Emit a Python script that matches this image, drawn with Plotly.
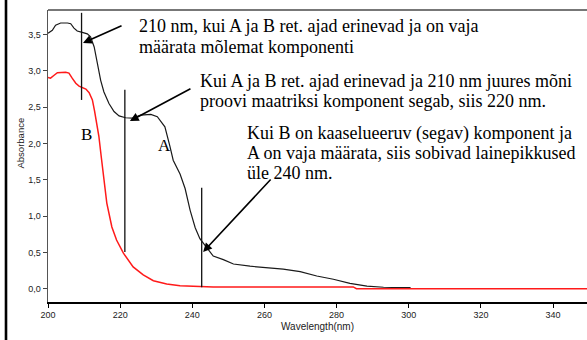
import plotly.graph_objects as go

# ---- data ----
wavelength_A = [200.0, 201.2, 202.1, 203.5, 205.4, 206.3, 207.2, 208.1, 209.5, 210.9,
                211.8, 212.8, 213.7, 214.6, 215.5, 216.9, 218.3, 219.7, 221.5, 223.4,
                225.7, 228.5, 230.3, 231.7, 232.4, 233.8, 234.7, 236.6, 238.0, 239.4,
                240.8, 242.1, 244.0, 245.8, 248.6, 251.4, 256.0, 260.6, 265.2, 269.9,
                274.5, 279.1, 283.7, 288.4, 293.0, 297.6, 300.5]
absorbance_A = [3.52, 3.56, 3.63, 3.66, 3.66, 3.65, 3.59, 3.55, 3.53, 3.51,
                3.47, 3.33, 3.10, 2.87, 2.71, 2.55, 2.44, 2.38, 2.355, 2.35,
                2.39, 2.40, 2.37, 2.28, 2.23, 1.96, 1.77, 1.58, 1.38, 1.08,
                0.84, 0.69, 0.56, 0.45, 0.40, 0.34, 0.31, 0.29, 0.27, 0.235,
                0.175, 0.13, 0.074, 0.037, 0.02, 0.015, 0.015]

wavelength_B = [200.0, 200.7, 201.7, 202.6, 204.9, 205.8, 206.7, 207.7, 208.6, 209.5,
                210.5, 211.4, 212.3, 212.9, 213.4, 214.1, 214.8, 215.4, 216.3, 217.7,
                219.0, 220.9, 223.6, 226.4, 229.2, 232.9, 236.6, 242.1, 245.8, 284.6,
                285.5, 350.0]
absorbance_B = [2.91, 2.90, 2.94, 2.975, 2.98, 2.97, 2.90, 2.83, 2.79, 2.77,
                2.75, 2.70, 2.60, 2.45, 2.30, 2.10, 1.80, 1.55, 1.18, 0.85,
                0.67, 0.49, 0.30, 0.19, 0.11, 0.065, 0.04, 0.03, 0.025, 0.025,
                0.0, 0.0]

x_ticks = [200, 220, 240, 260, 280, 300, 320, 340]
y_ticks = [0.0, 0.5, 1.0, 1.5, 2.0, 2.5, 3.0, 3.5]

note_lines = [
    "210 nm, kui A ja B ret. ajad erinevad ja on vaja",
    "määrata mõlemat komponenti",
    "Kui A ja B ret. ajad erinevad ja 210 nm juures mõni",
    "proovi maatriksi komponent segab, siis 220 nm.",
    "Kui B on kaaselueeruv (segav) komponent ja",
    "A on vaja määrata, siis sobivad lainepikkused",
    "üle 240 nm.",
]
series_labels = ["A", "B"]

# ---- layout geometry (pixels) ----
W, H = 587, 340
L, R, T, B = 48, 0, 10, 38
PW, PH = W - L - R, H - T - B


def px_x(px):
    return (px - L) / PW


def px_y(py):
    return (H - B - py) / PH


fig = go.Figure()
fig.add_trace(go.Scatter(x=wavelength_A, y=absorbance_A, mode="lines",
                         line=dict(color="#1a1a1a", width=1.2), showlegend=False,
                         hoverinfo="skip"))
fig.add_trace(go.Scatter(x=wavelength_B, y=absorbance_B, mode="lines",
                         line=dict(color="#ff1a1a", width=1.5), showlegend=False,
                         hoverinfo="skip"))

serif = "Liberation Serif, Times New Roman, serif"
sans = "Liberation Sans, Arial, sans-serif"

annotations = []
# note text lines
line_pos = [(137, 26), (137, 47), (198, 81), (198, 101), (245, 133), (245, 153), (245, 173)]
for txt, (px, py) in zip(note_lines, line_pos):
    annotations.append(dict(x=px_x(px), y=px_y(py), xref="paper", yref="paper",
                            text=txt, showarrow=False, xanchor="left", yanchor="middle",
                            font=dict(family=serif, size=18, color="black")))
# series labels
annotations.append(dict(x=232.2, y=1.97, text=series_labels[0], showarrow=False,
                        font=dict(family=serif, size=17, color="black")))
annotations.append(dict(x=210.8, y=2.12, text=series_labels[1], showarrow=False,
                        font=dict(family=serif, size=17, color="black")))
# arrows
arrows = [((209.7, 3.384), (220.8, 3.632)),
          ((222.7, 2.31), (239.9, 2.765)),
          ((243.0, 0.506), (262.1, 1.525))]
for (hx, hy), (tx, ty) in arrows:
    annotations.append(dict(x=hx, y=hy, ax=tx, ay=ty, xref="x", yref="y",
                            axref="x", ayref="y", text="", showarrow=True,
                            arrowhead=2, arrowsize=1.1, arrowwidth=1.6,
                            arrowcolor="black"))
# axis titles
annotations.append(dict(x=px_x(317), y=px_y(334), xref="paper", yref="paper",
                        text="Wavelength(nm)", showarrow=False,
                        font=dict(family=sans, size=10, color="#222")))
annotations.append(dict(x=px_x(12), y=px_y(143), xref="paper", yref="paper",
                        text="Absorbance", showarrow=False, textangle=-90,
                        font=dict(family=sans, size=9.5, color="#222")))

shapes = []
# vertical marker lines
vlines = [(209.3, 2.60, 3.80), (221.3, 0.505, 2.74), (242.6, 0.02, 1.39)]
for vx, y0, y1 in vlines:
    shapes.append(dict(type="line", xref="x", yref="y", x0=vx, x1=vx, y0=y0, y1=y1,
                       line=dict(color="#111", width=1.3)))
# top frame line
shapes.append(dict(type="line", xref="paper", yref="paper", x0=0, x1=1, y0=1, y1=1,
                   line=dict(color="#777", width=2)))
# thick page border on the left
shapes.append(dict(type="line", xref="paper", yref="paper", x0=px_x(6), x1=px_x(6),
                   y0=px_y(0), y1=px_y(340), line=dict(color="black", width=2.6)))

fig.update_layout(
    width=W, height=H, autosize=False,
    margin=dict(l=L, r=R, t=T, b=B),
    paper_bgcolor="white", plot_bgcolor="white",
    separators=", ",
    showlegend=False,
    hovermode=False,
    annotations=annotations,
    shapes=shapes,
    xaxis=dict(range=[200, 349.4], tickvals=x_ticks, ticks="outside", ticklen=4,
               tickcolor="black", showline=True, linecolor="black", linewidth=1.5,
               showgrid=False, zeroline=False,
               tickfont=dict(family=sans, size=9, color="#222")),
    yaxis=dict(range=[-0.183, 3.839], tickvals=y_ticks, tickformat=".1f",
               ticks="outside", ticklen=4, tickcolor="#444", showline=True,
               linecolor="#555", linewidth=1.5, showgrid=False, zeroline=False,
               tickfont=dict(family=sans, size=9, color="#222")),
)

fig.write_html("out.html", config={"displayModeBar": False, "staticPlot": True},
               post_script="document.body.style.margin='0';document.body.style.overflow='hidden';")
